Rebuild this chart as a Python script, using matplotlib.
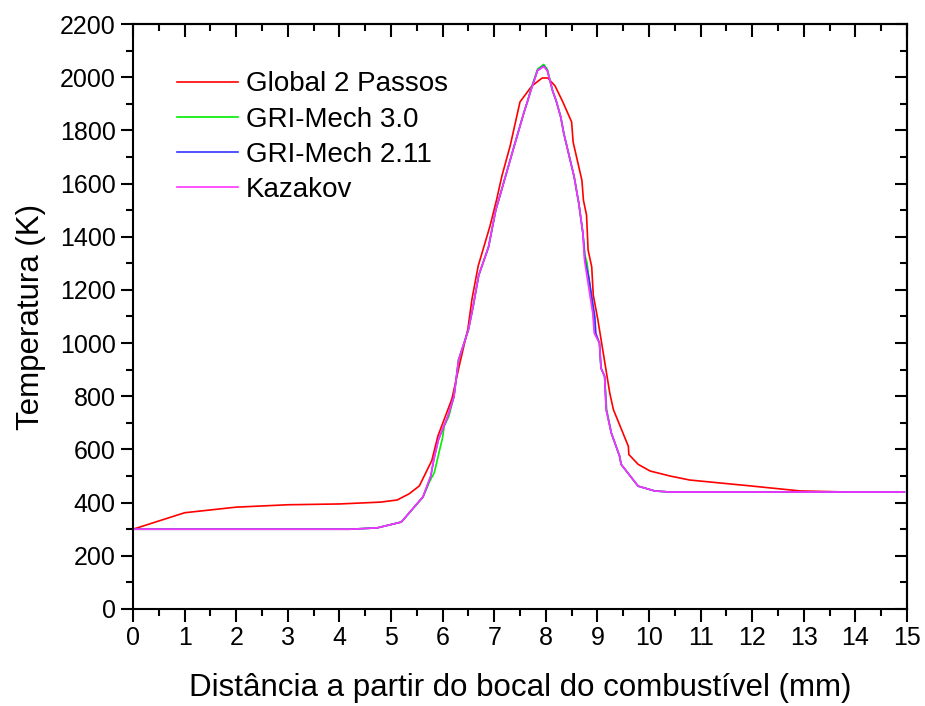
import matplotlib
matplotlib.use("Agg")
import matplotlib.pyplot as plt
from matplotlib.ticker import MultipleLocator

plt.rcParams['font.family'] = ['Liberation Sans', 'DejaVu Sans']

# Global 2 Passos (red)
global_x = [0, 1, 2, 3, 4, 4.8, 5.12, 5.35, 5.55, 5.79, 5.91, 6.18, 6.34, 6.49,
            6.57, 6.69, 6.92, 7.05, 7.15, 7.31, 7.5, 7.73, 7.93, 8.04, 8.18,
            8.33, 8.5, 8.53, 8.70, 8.73, 8.79, 8.82, 8.89, 8.92, 9.01, 9.24,
            9.31, 9.60, 9.61, 9.79, 10.02, 10.41, 10.79, 11.96, 12.93, 13.84,
            14.77]
global_t = [300, 362, 383, 392, 395, 402, 410, 433, 463, 558, 651, 790, 929,
            1053, 1166, 1290, 1441, 1542, 1629, 1742, 1907, 1967, 1997, 1997,
            1967, 1907, 1832, 1756, 1612, 1537, 1481, 1350, 1287, 1181, 1087,
            812, 750, 612, 581, 544, 519, 500, 485, 463, 444, 440, 440]

# GRI-Mech 3.0 (green)
gri30_x = [0, 4.2, 4.73, 5.2, 5.62, 5.75, 5.84, 5.93, 6.0, 6.03, 6.12, 6.22,
           6.31, 6.50, 6.59, 6.70, 6.89, 7.03, 7.16, 7.38, 7.57, 7.65, 7.71,
           7.84, 7.96, 8.03, 8.13, 8.20, 8.29, 8.35, 8.55, 8.64, 8.72, 8.76,
           8.80, 8.92, 8.95, 9.04, 9.07, 9.14, 9.18, 9.27, 9.43, 9.46, 9.79,
           10.11, 10.4, 11, 12, 13, 14, 14.95]
gri30_t = [300, 300, 305, 327, 420, 480, 513, 588, 645, 687, 724, 799, 937,
           1050, 1136, 1255, 1361, 1500, 1587, 1736, 1863, 1912, 1955, 2030,
           2048, 2030, 1950, 1912, 1850, 1788, 1625, 1525, 1412, 1330, 1300,
           1112, 1037, 1000, 906, 875, 750, 662, 575, 544, 462, 444, 440, 440,
           440, 440, 440, 440]

# GRI-Mech 2.11 (blue)
gri211_x = [0, 4.2, 4.73, 5.2, 5.62, 5.77, 5.83, 5.92, 6.10, 6.22, 6.31, 6.50,
            6.59, 6.70, 6.89, 7.03, 7.16, 7.38, 7.57, 7.65, 7.71, 7.84, 7.96,
            8.03, 8.13, 8.20, 8.29, 8.35, 8.55, 8.64, 8.72, 8.76, 8.84, 8.95,
            8.97, 9.04, 9.07, 9.14, 9.17, 9.27, 9.43, 9.46, 9.79, 10.11, 10.4,
            11, 12, 13, 14, 14.95]
gri211_t = [300, 300, 305, 327, 422, 499, 562, 637, 724, 799, 937, 1050, 1136,
            1255, 1361, 1500, 1587, 1736, 1863, 1912, 1950, 2025, 2042, 2025,
            1950, 1912, 1850, 1788, 1625, 1525, 1412, 1312, 1240, 1100, 1037,
            1000, 906, 875, 750, 662, 575, 544, 462, 444, 440, 440, 440, 440,
            440, 440]

# Kazakov (magenta)
kazakov_x = [0, 4.2, 4.73, 5.2, 5.62, 5.77, 5.83, 5.92, 6.10, 6.22, 6.31, 6.50,
             6.59, 6.70, 6.89, 7.03, 7.16, 7.38, 7.57, 7.65, 7.71, 7.84, 7.96,
             8.03, 8.13, 8.20, 8.29, 8.35, 8.55, 8.64, 8.72, 8.75, 8.91, 8.94,
             9.04, 9.07, 9.14, 9.17, 9.27, 9.43, 9.46, 9.79, 10.11, 10.4, 11,
             12, 13, 14, 14.95]
kazakov_t = [300, 300, 305, 327, 422, 499, 562, 637, 724, 799, 937, 1050, 1136,
             1255, 1361, 1500, 1587, 1736, 1863, 1912, 1950, 2025, 2040, 2025,
             1950, 1912, 1850, 1788, 1625, 1525, 1412, 1312, 1112, 1037, 1000,
             906, 875, 750, 662, 575, 544, 462, 444, 440, 440, 440, 440, 440,
             440]

fig = plt.figure(figsize=(9.25, 7.06), dpi=100)
ax = fig.add_axes([0.1438, 0.1374, 0.8367, 0.8286])

ax.plot(global_x, global_t, color='#ff0000', lw=1.2, label='Global 2 Passos')
ax.plot(gri30_x, gri30_t, color='#00ee00', lw=1.2, label='GRI-Mech 3.0')
ax.plot(gri211_x, gri211_t, color='#3333ff', lw=1.2, label='GRI-Mech 2.11')
ax.plot(kazakov_x, kazakov_t, color='#ff33ff', lw=1.2, label='Kazakov')

ax.set_xlim(0, 15)
ax.set_ylim(0, 2200)
ax.xaxis.set_major_locator(MultipleLocator(1))
ax.xaxis.set_minor_locator(MultipleLocator(0.5))
ax.yaxis.set_major_locator(MultipleLocator(200))
ax.yaxis.set_minor_locator(MultipleLocator(100))
ax.tick_params(which='major', direction='out', length=9, width=1.5, labelsize=18)
ax.tick_params(which='minor', direction='out', length=5, width=1.5)

# top and right axes only carry inward ticks
top = ax.secondary_xaxis('top')
top.xaxis.set_major_locator(MultipleLocator(1))
top.xaxis.set_minor_locator(MultipleLocator(0.5))
top.tick_params(which='major', direction='in', length=9, width=1.5, labeltop=False)
top.tick_params(which='minor', direction='in', length=5, width=1.5)
right = ax.secondary_yaxis('right')
right.yaxis.set_major_locator(MultipleLocator(200))
right.yaxis.set_minor_locator(MultipleLocator(100))
right.tick_params(which='major', direction='in', length=9, width=1.5, labelright=False)
right.tick_params(which='minor', direction='in', length=5, width=1.5)
for a in (ax, top, right):
    for s in a.spines.values():
        s.set_linewidth(1.5)

ax.set_xlabel('Distância a partir do bocal do combustível (mm)', fontsize=22.5, labelpad=16)
ax.set_ylabel('Temperatura (K)', fontsize=22.5, labelpad=10)

ax.legend(loc='upper left', bbox_to_anchor=(0.042, 0.938), frameon=False,
          fontsize=20, handlelength=2.2, handletextpad=0.3, labelspacing=0.33,
          borderaxespad=0)

fig.savefig('out.png', dpi=100)
